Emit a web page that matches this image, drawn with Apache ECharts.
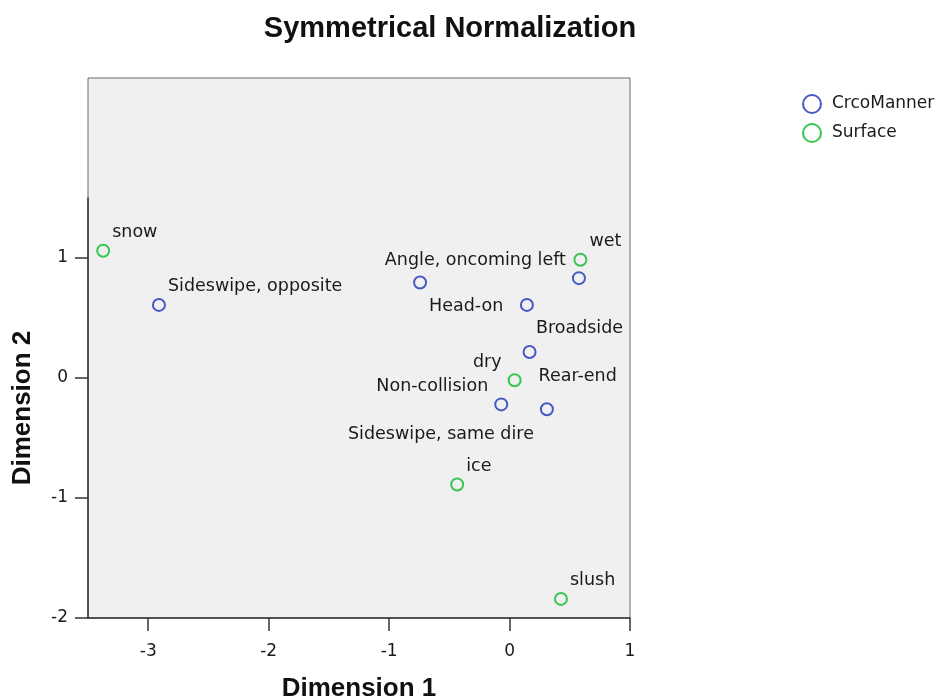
<!DOCTYPE html>
<html>
<head>
<meta charset="utf-8">
<script src="https://cdn.jsdelivr.net/npm/echarts@6/dist/echarts.min.js"></script>
<style>html,body{margin:0;padding:0;background:#fff;}#c{width:941px;height:699px;}</style>
</head>
<body>
<div id="c"></div>
<script>
// ---- data ----
const mannerNames = ['Angle, oncoming left', 'Head-on', 'Broadside', 'Rear-end', 'Non-collision', 'Sideswipe, same dire', 'Sideswipe, opposite'];
const mannerDim1 = [0.576, -0.743, 0.144, 0.166, -0.069, 0.310, -2.911];
const mannerDim2 = [0.832, 0.796, 0.609, 0.217, -0.220, -0.261, 0.609];

const surfaceNames = ['dry', 'wet', 'snow', 'ice', 'slush'];
const surfaceDim1 = [0.042, 0.588, -3.374, -0.435, 0.427];
const surfaceDim2 = [-0.019, 0.985, 1.060, -0.887, -1.841];

const xTicks = [-3, -2, -1, 0, 1];
const yTicks = [-2, -1, 0, 1];
const seriesNames = ['CrcoManner', 'Surface'];

// ---- style (label placement around points) ----
const mannerPlace = ['tl', 'br', 'br', 'br', 'tl', 'bl', 'tr'];
const surfacePlace = ['tl', 'tr', 'tr', 'tr', 'tr'];

const X_MIN = -3.5, X_MAX = 1, Y_MIN = -2, Y_MAX = 2.5, Y_AXIS_TOP = 1.5;
const G = {left: 88, right: 311, top: 78, bottom: 81};
const plotH = 699 - G.top - G.bottom;
const axisGridTop = G.top + (Y_MAX - Y_AXIS_TOP) / (Y_MAX - Y_MIN) * plotH;

const BLUE = '#4659c4', GREEN = '#38c552';
const LABEL_FONT = 'DejaVu Sans';

function labelFor(p) {
  const base = {show: true, fontFamily: LABEL_FONT, fontSize: 17.5, color: '#1a1a1a'};
  if (p === 'tr') return Object.assign(base, {position: 'right', distance: 2, offset: [0, -18]});
  if (p === 'tl') return Object.assign(base, {position: 'left', distance: 6, offset: [0, -18]});
  if (p === 'br') return Object.assign(base, {position: 'right', distance: 2, offset: [0, 24]});
  return Object.assign(base, {position: 'left', distance: 6, offset: [0, 25]});
}

function buildData(names, d1, d2, place) {
  return names.map((n, i) => ({name: n, value: [d1[i], d2[i]], label: Object.assign(labelFor(place[i]), {formatter: n})}));
}

const axisLineStyle = {color: '#333', width: 1.5};
const tickFont = {fontFamily: LABEL_FONT, fontSize: 17, color: '#1a1a1a'};

const chart = echarts.init(document.getElementById('c'), null, {renderer: 'canvas'});
chart.setOption({
  animation: false,
  backgroundColor: '#fff',
  title: {
    text: 'Symmetrical Normalization',
    left: 445, top: 9, textAlign: 'center',
    textStyle: {fontFamily: 'Liberation Sans', fontWeight: 'bold', fontSize: 29, color: '#111'}
  },
  legend: {
    orient: 'vertical', left: 797, top: 89,
    itemWidth: 18, itemHeight: 18, itemGap: 9,
    textStyle: {fontFamily: LABEL_FONT, fontSize: 17, color: '#1a1a1a', padding: [0, 0, 0, 6]},
    data: [
      {name: seriesNames[0], icon: 'circle', itemStyle: {color: 'rgba(0,0,0,0)', borderColor: BLUE, borderWidth: 2}},
      {name: seriesNames[1], icon: 'circle', itemStyle: {color: 'rgba(0,0,0,0)', borderColor: GREEN, borderWidth: 2}}
    ]
  },
  grid: [
    Object.assign({show: true, backgroundColor: '#f0f0f0', borderColor: '#6a6a6a', borderWidth: 1, outerBoundsMode: 'none', containLabel: false}, G),
    {left: G.left, right: G.right, top: axisGridTop, bottom: G.bottom, outerBoundsMode: 'none', containLabel: false}
  ],
  xAxis: [
    {
      gridIndex: 0, type: 'value', min: X_MIN, max: X_MAX,
      axisLine: {show: true, onZero: false, lineStyle: axisLineStyle},
      axisTick: {show: true, customValues: xTicks, length: 13, lineStyle: axisLineStyle},
      axisLabel: Object.assign({customValues: xTicks, margin: 25}, tickFont),
      splitLine: {show: false},
      name: 'Dimension 1', nameLocation: 'middle', nameGap: 58,
      nameTextStyle: {fontFamily: 'Liberation Sans', fontWeight: 'bold', fontSize: 26, color: '#111'}
    },
    {gridIndex: 1, type: 'value', min: X_MIN, max: X_MAX, show: false}
  ],
  yAxis: [
    {
      gridIndex: 0, type: 'value', min: Y_MIN, max: Y_MAX,
      axisLine: {show: true, onZero: false, lineStyle: {color: 'rgba(0,0,0,0)'}},
      axisTick: {show: true, customValues: yTicks, length: 13, lineStyle: axisLineStyle},
      axisLabel: Object.assign({customValues: yTicks, margin: 20}, tickFont),
      splitLine: {show: false}
    },
    {
      gridIndex: 1, type: 'value', min: Y_MIN, max: Y_AXIS_TOP,
      axisLine: {show: true, onZero: false, lineStyle: axisLineStyle},
      axisTick: {show: false}, axisLabel: {show: false}, splitLine: {show: false},
      name: 'Dimension 2', nameLocation: 'middle', nameGap: 52,
      nameTextStyle: {fontFamily: 'Liberation Sans', fontWeight: 'bold', fontSize: 26, color: '#111'}
    }
  ],
  series: [
    {
      name: seriesNames[0], type: 'scatter', xAxisIndex: 0, yAxisIndex: 0,
      symbol: 'circle', symbolSize: 12,
      itemStyle: {color: 'rgba(0,0,0,0)', borderColor: BLUE, borderWidth: 2, opacity: 1},
      data: buildData(mannerNames, mannerDim1, mannerDim2, mannerPlace)
    },
    {
      name: seriesNames[1], type: 'scatter', xAxisIndex: 0, yAxisIndex: 0,
      symbol: 'circle', symbolSize: 12,
      itemStyle: {color: 'rgba(0,0,0,0)', borderColor: GREEN, borderWidth: 2, opacity: 1},
      data: buildData(surfaceNames, surfaceDim1, surfaceDim2, surfacePlace)
    }
  ]
});
</script>
</body>
</html>
